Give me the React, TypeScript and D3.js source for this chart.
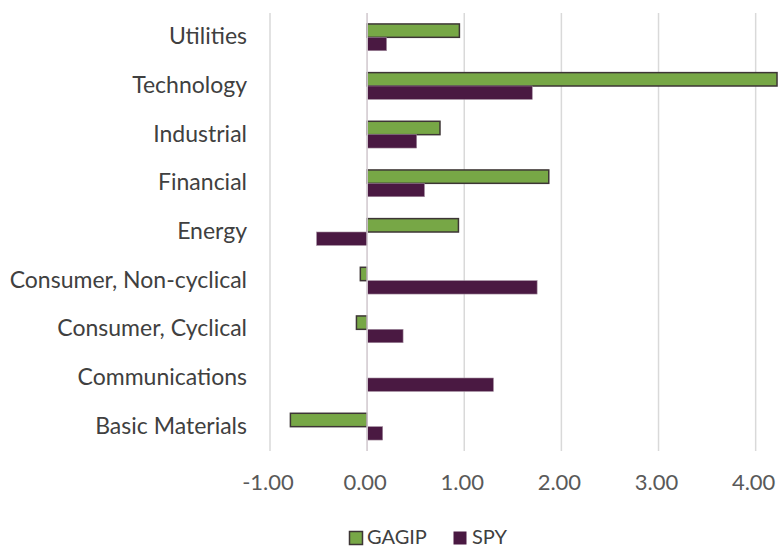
import React from "react";
import * as d3 from "d3";

const categories = [
  "Utilities",
  "Technology",
  "Industrial",
  "Financial",
  "Energy",
  "Consumer, Non-cyclical",
  "Consumer, Cyclical",
  "Communications",
  "Basic Materials",
];
const gagip = [0.95, 4.22, 0.75, 1.87, 0.94, -0.07, -0.11, 0, -0.79];
const spy = [0.2, 1.7, 0.51, 0.59, -0.52, 1.75, 0.37, 1.3, 0.16];
const xTicks = [-1, 0, 1, 2, 3, 4];
const seriesNames = ["GAGIP", "SPY"];

const W = 778;
const H = 548;
const FONT = "Lato, 'Noto Sans', sans-serif";
const GREEN = "#77a746";
const PURPLE = "#4a1942";

export default function App() {
  const x = d3.scaleLinear().domain([-1, 4.23]).range([270, 778]);
  const y = d3.scaleBand<string>().domain(categories).range([13, 451]);
  const bh = y.bandwidth() * 0.275;
  const fmt = (v: number) => d3.format(".2f")(v).replace("\u2212", "-");

  return (
    <svg width={W} height={H} style={{ position: "absolute", left: 0, top: 0 }}>
      <rect width={W} height={H} fill="#fff" />
      {xTicks.map((t) => (
        <line key={t} x1={x(t)} x2={x(t)} y1={13} y2={451} stroke="#d9d9d9" strokeWidth={1.5} />
      ))}
      {categories.map((c, i) => {
        const cy = (y(c) as number) + y.bandwidth() / 2;
        const g = gagip[i];
        const s = spy[i];
        return (
          <g key={c}>
            {g !== 0 && (
              <rect
                x={Math.min(x(0), x(g))}
                y={cy - bh}
                width={Math.abs(x(g) - x(0))}
                height={bh}
                fill={GREEN}
                stroke="#3d3535"
                strokeWidth={1.5}
              />
            )}
            <rect
              x={Math.min(x(0), x(s))}
              y={cy}
              width={Math.abs(x(s) - x(0))}
              height={bh}
              fill={PURPLE}
              stroke="#a08a9c"
              strokeWidth={0.6}
            />
            <text
              x={247}
              y={cy - 2}
              textAnchor="end"
              dominantBaseline="central"
              fontFamily={FONT}
              fontSize={23}
              fill="#404040"
            >
              {c}
            </text>
          </g>
        );
      })}
      <line x1={x(0)} x2={x(0)} y1={13} y2={451} stroke="#d9d0d6" strokeWidth={1.5} />
      {xTicks.map((t) => (
        <text
          key={"l" + t}
          x={x(t) - 2}
          y={481}
          textAnchor="middle"
          dominantBaseline="central"
          fontFamily={FONT}
          fontSize={22}
          fill="#595959"
        >
          {fmt(t)}
        </text>
      ))}
      <g>
        <rect x={349.5} y={531.5} width={13} height={13} fill={GREEN} stroke="#3d3535" strokeWidth={1.5} />
        <text x={367} y={536} dominantBaseline="central" fontFamily={FONT} fontSize={20} fill="#404040">
          {seriesNames[0]}
        </text>
        <rect x={453.5} y={531.5} width={13} height={13} fill={PURPLE} />
        <text x={472} y={536} dominantBaseline="central" fontFamily={FONT} fontSize={20} fill="#404040">
          {seriesNames[1]}
        </text>
      </g>
    </svg>
  );
}
